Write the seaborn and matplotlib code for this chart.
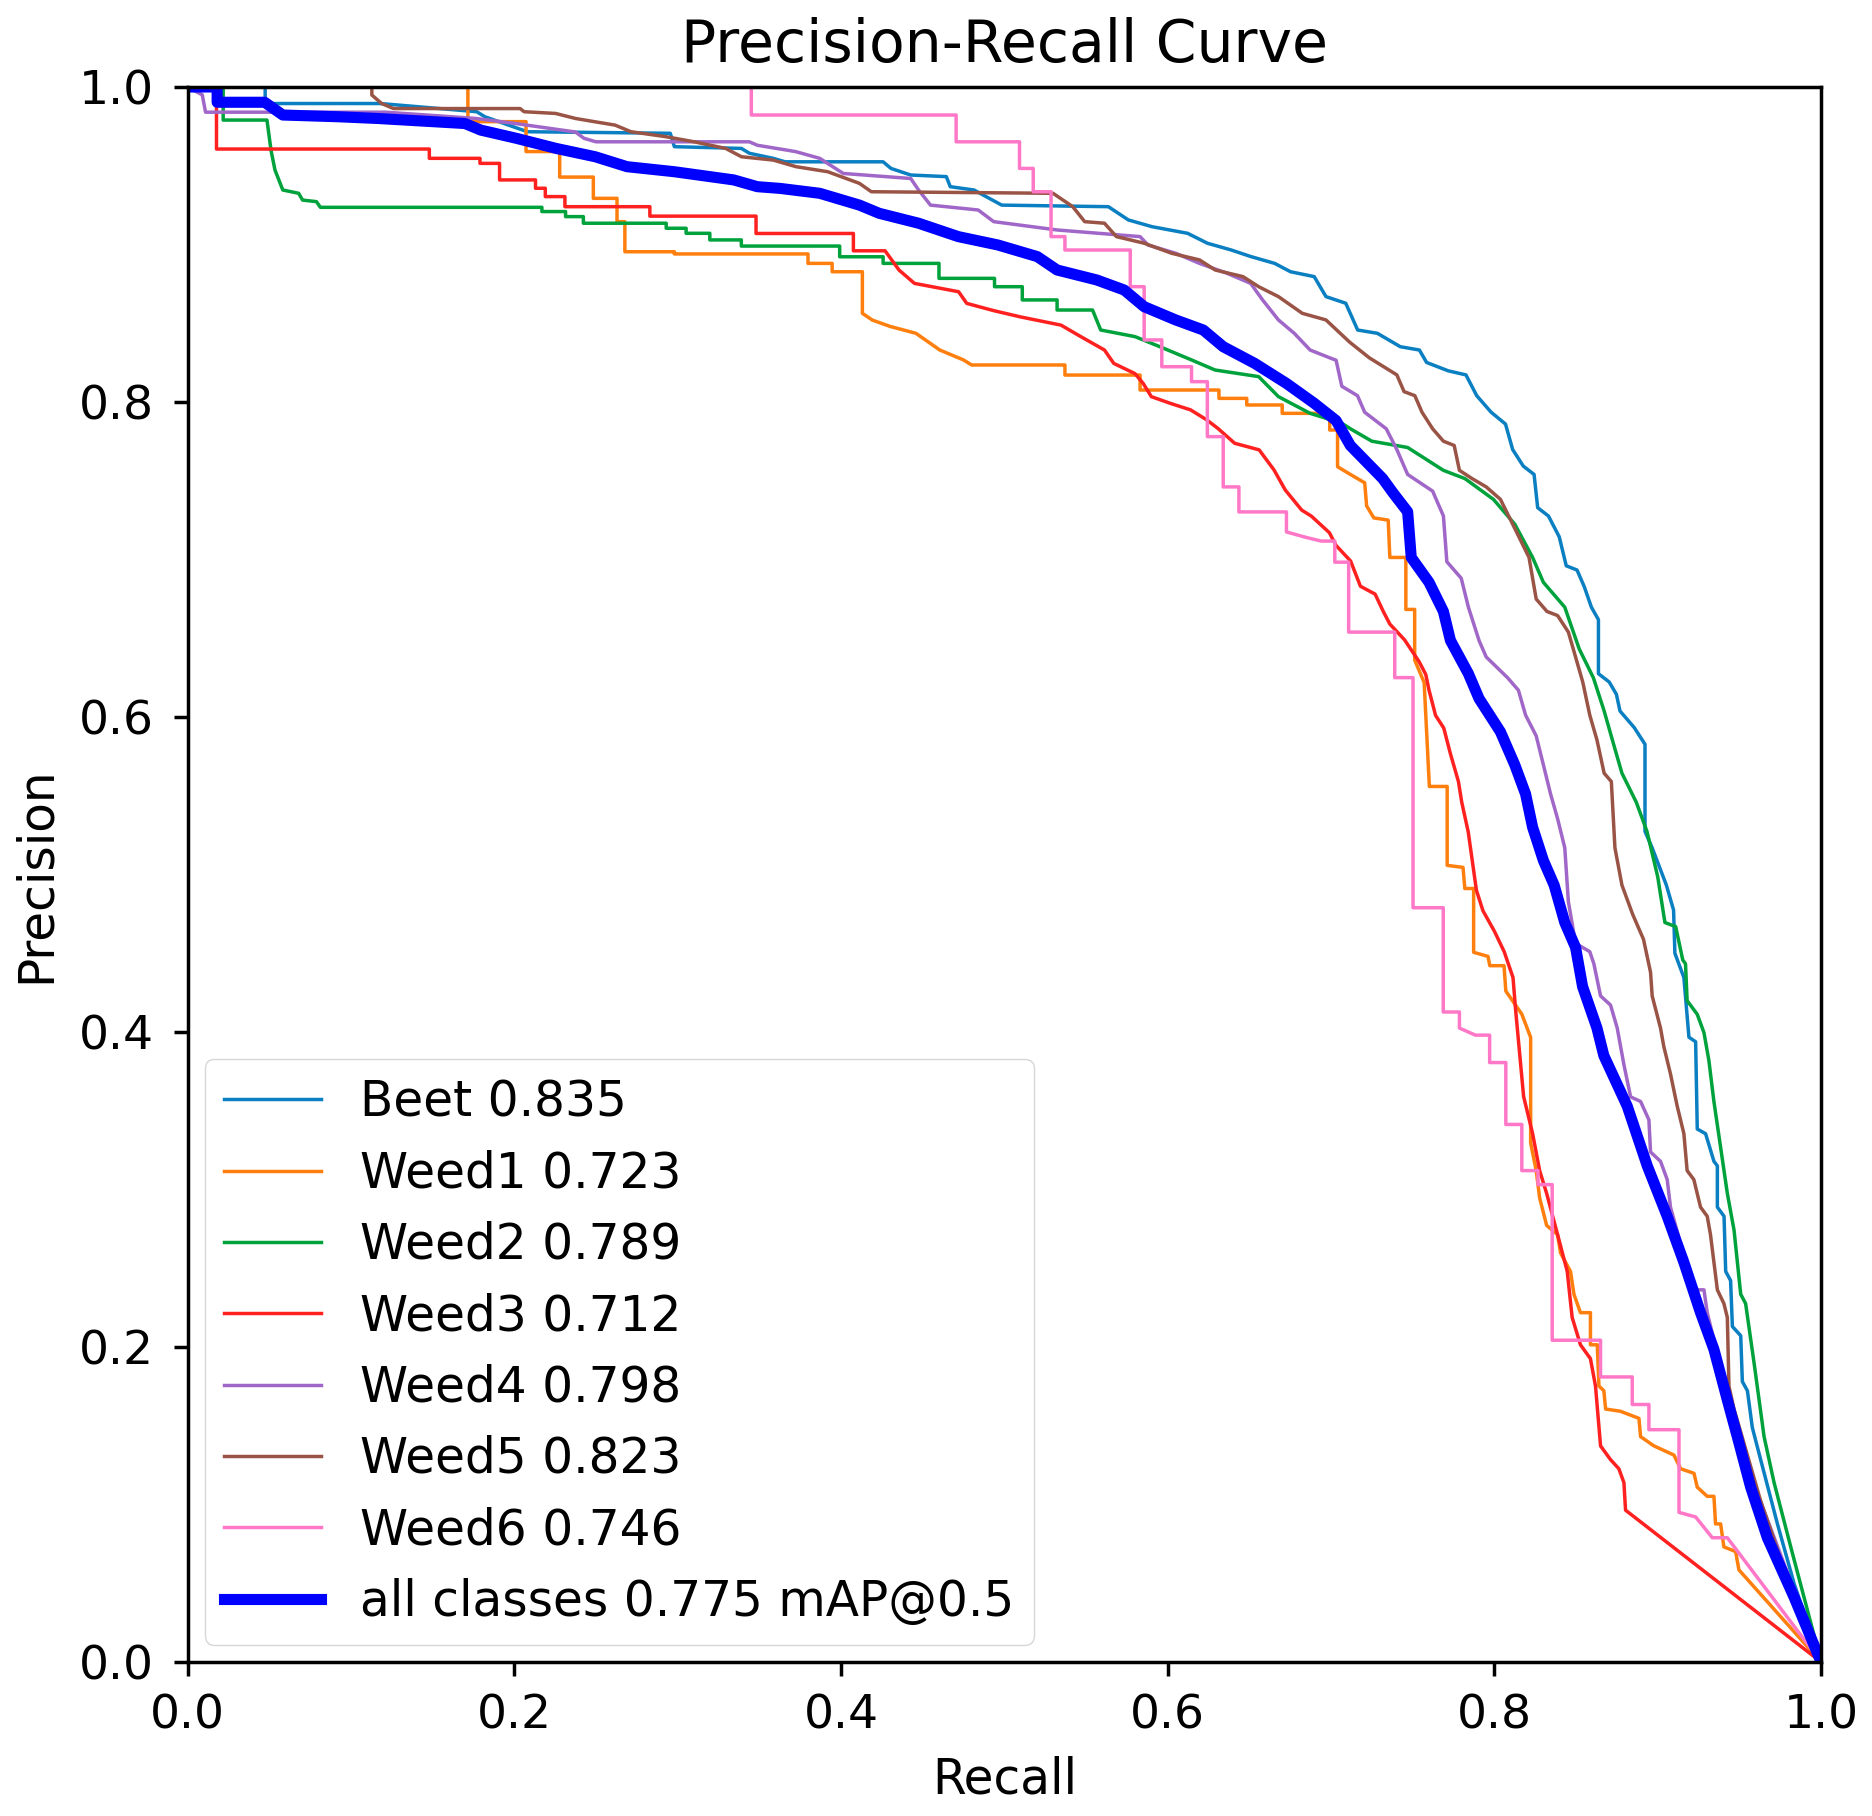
import matplotlib

matplotlib.use("Agg")
import matplotlib.pyplot as plt
import seaborn as sns

# Per-class precision/recall curves
beet_recall = [0, 0.0475, 0.0475, 0.118, 0.177, 0.182, 0.208, 0.2955, 0.298, 0.339, 0.344, 0.3585,
               0.3658, 0.4258, 0.4306, 0.4427, 0.4645, 0.4669, 0.4814, 0.4984, 0.5637, 0.5759,
               0.5904, 0.6122, 0.6243, 0.6389, 0.651, 0.6655, 0.6752, 0.6897, 0.6969, 0.709,
               0.7163, 0.7284, 0.7424, 0.7541, 0.7585, 0.7717, 0.7826, 0.7892, 0.798, 0.8068,
               0.8112, 0.8177, 0.8243, 0.8265, 0.8331, 0.8397, 0.844, 0.8506, 0.855, 0.8594,
               0.8637, 0.8637, 0.8703, 0.8747, 0.8769, 0.8856, 0.8922, 0.8922, 0.8966, 0.9053,
               0.9097, 0.9105, 0.916, 0.9191, 0.9232, 0.9242, 0.9293, 0.9344, 0.9365, 0.9365,
               0.9406, 0.9416, 0.9446, 0.9457, 0.9508, 0.9518, 0.9549, 0.9579, 0.963, 0.9733,
               0.9835, 1.0]
beet_precision = [1, 1, 0.9895, 0.9895, 0.9843, 0.9811, 0.9716, 0.9706, 0.9621, 0.961, 0.9579,
                  0.9547, 0.9525, 0.9525, 0.9483, 0.9441, 0.9431, 0.9367, 0.9346, 0.925, 0.924,
                  0.9156, 0.9113, 0.9071, 0.9008, 0.8965, 0.8923, 0.888, 0.8827, 0.8796, 0.8669,
                  0.8627, 0.8457, 0.8436, 0.8351, 0.833, 0.8251, 0.8198, 0.8172, 0.804, 0.7935,
                  0.786, 0.7698, 0.7593, 0.754, 0.7329, 0.7276, 0.7144, 0.696, 0.6933, 0.6828,
                  0.6697, 0.6618, 0.6275, 0.6222, 0.6144, 0.6038, 0.5933, 0.5827, 0.5274, 0.5169,
                  0.4932, 0.4774, 0.45, 0.4346, 0.3967, 0.3938, 0.3384, 0.3354, 0.3179, 0.315,
                  0.2888, 0.283, 0.248, 0.2422, 0.213, 0.2072, 0.1781, 0.1722, 0.1489, 0.1285,
                  0.0876, 0.0497, 0.0]

weed1_recall = [0, 0.1716, 0.1716, 0.2072, 0.2072, 0.2278, 0.2278, 0.2484, 0.2484, 0.2629, 0.2629,
                0.2677, 0.2677, 0.298, 0.298, 0.3798, 0.3798, 0.3946, 0.3946, 0.4131, 0.4131,
                0.4192, 0.43, 0.4459, 0.4605, 0.475, 0.48, 0.5371, 0.5371, 0.5831, 0.5831, 0.6314,
                0.6314, 0.6484, 0.6484, 0.6701, 0.6701, 0.6992, 0.6992, 0.704, 0.704, 0.712,
                0.7206, 0.7218, 0.7262, 0.735, 0.736, 0.7458, 0.7458, 0.7512, 0.7512, 0.757, 0.7602,
                0.7711, 0.7711, 0.7808, 0.7819, 0.7873, 0.7873, 0.7961, 0.7972, 0.8059, 0.807,
                0.8168, 0.8222, 0.8222, 0.8256, 0.8277, 0.832, 0.8387, 0.8405, 0.8466, 0.8487,
                0.8527, 0.8588, 0.8588, 0.863, 0.864, 0.867, 0.8681, 0.8772, 0.8885, 0.8895,
                0.8977, 0.9038, 0.9099, 0.914, 0.9222, 0.9242, 0.9303, 0.9344, 0.9354, 0.9385,
                0.9405, 0.9477, 0.9497, 1.0]
weed1_precision = [1, 1, 0.978, 0.978, 0.959, 0.959, 0.9428, 0.9428, 0.9293, 0.9293, 0.9145, 0.9145,
                   0.8954, 0.8954, 0.894, 0.894, 0.888, 0.888, 0.8827, 0.8827, 0.8563, 0.852, 0.848,
                   0.8436, 0.833, 0.8267, 0.8235, 0.8235, 0.8171, 0.8171, 0.8076, 0.8076, 0.8023,
                   0.8023, 0.7981, 0.7981, 0.7928, 0.7928, 0.7822, 0.7822, 0.7589, 0.7539, 0.7487,
                   0.734, 0.7264, 0.725, 0.7013, 0.7013, 0.6683, 0.6683, 0.6362, 0.6219, 0.5559,
                   0.5559, 0.5058, 0.5045, 0.4911, 0.4911, 0.4506, 0.448, 0.4421, 0.4421, 0.426,
                   0.4113, 0.3966, 0.3296, 0.312, 0.2947, 0.2772, 0.2713, 0.2597, 0.248, 0.2335,
                   0.2218, 0.2218, 0.2014, 0.2014, 0.1752, 0.1723, 0.1606, 0.1592, 0.1547, 0.1431,
                   0.1372, 0.1343, 0.1314, 0.1227, 0.1198, 0.111, 0.1052, 0.1052, 0.0877, 0.0877,
                   0.0731, 0.0701, 0.0585, 0.0]

weed2_recall = [0, 0.0218, 0.0218, 0.0486, 0.0511, 0.0535, 0.0583, 0.068, 0.0704, 0.0789, 0.0813,
                0.2169, 0.2169, 0.2314, 0.2314, 0.2423, 0.2423, 0.293, 0.293, 0.3052, 0.3052,
                0.3197, 0.3197, 0.339, 0.339, 0.3992, 0.3992, 0.4258, 0.4258, 0.46, 0.46, 0.494,
                0.494, 0.511, 0.511, 0.5323, 0.5323, 0.554, 0.559, 0.58, 0.5952, 0.6146, 0.629,
                0.6557, 0.6678, 0.6872, 0.7066, 0.712, 0.725, 0.7469, 0.7688, 0.7819, 0.7994,
                0.8125, 0.8234, 0.83, 0.8431, 0.8519, 0.8606, 0.8672, 0.8737, 0.8781, 0.8869,
                0.8934, 0.9, 0.9044, 0.911, 0.9153, 0.917, 0.918, 0.9242, 0.9283, 0.9313, 0.9344,
                0.9385, 0.9426, 0.9467, 0.9508, 0.9538, 0.959, 0.9651, 0.9712, 0.9814, 1.0]
weed2_precision = [1, 1, 0.979, 0.979, 0.9597, 0.9473, 0.9346, 0.9325, 0.9282, 0.9272, 0.9236,
                   0.9236, 0.9209, 0.9209, 0.9177, 0.9177, 0.9135, 0.9135, 0.9103, 0.9103, 0.9071,
                   0.9071, 0.9029, 0.9029, 0.899, 0.899, 0.8922, 0.8922, 0.888, 0.888, 0.8785,
                   0.8785, 0.8732, 0.8732, 0.8648, 0.8648, 0.8584, 0.8584, 0.8457, 0.8415, 0.8351,
                   0.8267, 0.8203, 0.8161, 0.8034, 0.7928, 0.7865, 0.7829, 0.7751, 0.7711, 0.7566,
                   0.7514, 0.7382, 0.7224, 0.7013, 0.6855, 0.6697, 0.6433, 0.6249, 0.6038, 0.5801,
                   0.5643, 0.5458, 0.5274, 0.4985, 0.4695, 0.4669, 0.4458, 0.4433, 0.4199, 0.4112,
                   0.3996, 0.382, 0.3558, 0.3267, 0.2976, 0.2743, 0.2335, 0.2276, 0.1897, 0.1431,
                   0.114, 0.0732, 0.0]

weed3_recall = [0, 0.0177, 0.0177, 0.148, 0.148, 0.179, 0.179, 0.191, 0.191, 0.213, 0.213, 0.219,
                0.219, 0.231, 0.231, 0.283, 0.283, 0.348, 0.348, 0.4076, 0.4076, 0.427, 0.4355,
                0.445, 0.472, 0.477, 0.4935, 0.51, 0.5347, 0.547, 0.5613, 0.567, 0.58, 0.585, 0.59,
                0.602, 0.614, 0.624, 0.631, 0.641, 0.656, 0.665, 0.672, 0.682, 0.688, 0.699, 0.703,
                0.712, 0.718, 0.727, 0.732, 0.736, 0.745, 0.754, 0.758, 0.76, 0.764, 0.769, 0.773,
                0.778, 0.78, 0.784, 0.789, 0.793, 0.8, 0.806, 0.8114, 0.813, 0.8179, 0.8234,
                0.8277, 0.832, 0.8387, 0.8446, 0.8476, 0.8527, 0.8588, 0.8619, 0.865, 0.8711,
                0.8762, 0.8793, 0.8803, 1.0]
weed3_precision = [1, 1, 0.9606, 0.9606, 0.9547, 0.9547, 0.9515, 0.9515, 0.941, 0.941, 0.9357,
                   0.9357, 0.9304, 0.9304, 0.924, 0.924, 0.918, 0.918, 0.907, 0.907, 0.896, 0.896,
                   0.8838, 0.8753, 0.87, 0.8626, 0.858, 0.854, 0.8488, 0.8414, 0.833, 0.8245,
                   0.818, 0.8118, 0.8034, 0.799, 0.795, 0.7886, 0.783, 0.7738, 0.7696, 0.757,
                   0.7441, 0.7314, 0.7275, 0.717, 0.709, 0.699, 0.683, 0.678, 0.667, 0.659, 0.649,
                   0.635, 0.627, 0.617, 0.601, 0.593, 0.577, 0.559, 0.546, 0.527, 0.49, 0.477,
                   0.464, 0.451, 0.4346, 0.414, 0.359, 0.3355, 0.312, 0.2975, 0.2713, 0.248,
                   0.2188, 0.2014, 0.1926, 0.1752, 0.1372, 0.1285, 0.1227, 0.1139, 0.0964, 0.0]

weed4_recall = [0, 0.009, 0.011, 0.1213, 0.1767, 0.2008, 0.2375, 0.2427, 0.25, 0.3439, 0.3488,
                0.3681, 0.3725, 0.387, 0.4014, 0.4427, 0.4475, 0.4548, 0.484, 0.4935, 0.5324,
                0.5831, 0.5879, 0.605, 0.6195, 0.6364, 0.6508, 0.6581, 0.6678, 0.6775, 0.6872,
                0.6993, 0.7031, 0.7066, 0.7162, 0.7206, 0.7338, 0.7403, 0.7469, 0.7622, 0.7688,
                0.7709, 0.7797, 0.7841, 0.7906, 0.795, 0.8081, 0.8147, 0.8191, 0.8256, 0.83,
                0.8344, 0.8387, 0.8431, 0.8453, 0.8497, 0.8584, 0.8609, 0.865, 0.8711, 0.8752,
                0.8793, 0.8834, 0.8895, 0.8946, 0.8956, 0.9017, 0.9058, 0.9078, 0.915, 0.9221,
                0.9283, 0.9303, 0.9426, 0.96, 1.0]
weed4_precision = [1, 0.995, 0.984, 0.984, 0.98, 0.9768, 0.9714, 0.9674, 0.9652, 0.9652, 0.963,
                   0.9597, 0.9589, 0.9547, 0.9451, 0.9419, 0.9346, 0.925, 0.9219, 0.9145, 0.9092,
                   0.905, 0.8997, 0.8944, 0.888, 0.8817, 0.8753, 0.8648, 0.8521, 0.8436, 0.833,
                   0.828, 0.8265, 0.81, 0.804, 0.7935, 0.783, 0.7698, 0.754, 0.7434, 0.7276,
                   0.6986, 0.6881, 0.6697, 0.6486, 0.6381, 0.6249, 0.617, 0.6012, 0.588, 0.5696,
                   0.5511, 0.5354, 0.5169, 0.4827, 0.4563, 0.451, 0.4433, 0.4229, 0.4171, 0.4025,
                   0.3792, 0.3588, 0.3559, 0.3442, 0.3238, 0.3179, 0.3063, 0.2888, 0.262, 0.2363,
                   0.2363, 0.2218, 0.17, 0.11, 0.0]

weed5_recall = [0, 0.1128, 0.1128, 0.1188, 0.1261, 0.2036, 0.206, 0.2253, 0.2375, 0.2495, 0.2617,
                0.2714, 0.2931, 0.3101, 0.3294, 0.3391, 0.3585, 0.3725, 0.3919, 0.4113, 0.4186,
                0.5298, 0.5419, 0.5492, 0.5613, 0.5686, 0.5856, 0.6025, 0.6195, 0.6291, 0.6461,
                0.6557, 0.6678, 0.6824, 0.6969, 0.7114, 0.7235, 0.7403, 0.7447, 0.7513, 0.7557,
                0.7622, 0.7688, 0.7754, 0.7786, 0.7863, 0.795, 0.8037, 0.8125, 0.8212, 0.8256,
                0.8322, 0.8387, 0.8453, 0.8497, 0.8541, 0.8584, 0.8628, 0.8672, 0.8716, 0.8738,
                0.8781, 0.8847, 0.8913, 0.8956, 0.8966, 0.9017, 0.9037, 0.9078, 0.9119, 0.916,
                0.918, 0.9221, 0.9262, 0.9303, 0.9323, 0.9344, 0.9365, 0.9405, 0.9426, 0.9436,
                0.9467, 0.9508, 0.963, 0.9794, 1.0]
weed5_precision = [1, 1, 0.9949, 0.9895, 0.9863, 0.9863, 0.9843, 0.9832, 0.98, 0.9779, 0.9758,
                   0.9716, 0.9684, 0.9652, 0.961, 0.9557, 0.9536, 0.9494, 0.9462, 0.9388, 0.9335,
                   0.9325, 0.924, 0.9145, 0.9135, 0.905, 0.9008, 0.8944, 0.8902, 0.8838, 0.8796,
                   0.8732, 0.8669, 0.8563, 0.8521, 0.838, 0.828, 0.8172, 0.8066, 0.804, 0.7935,
                   0.783, 0.7751, 0.7724, 0.7566, 0.7514, 0.7461, 0.7382, 0.7197, 0.7013, 0.6749,
                   0.667, 0.6644, 0.6539, 0.6381, 0.6222, 0.6012, 0.5854, 0.5643, 0.559, 0.5169,
                   0.4932, 0.4746, 0.4588, 0.4379, 0.4229, 0.4025, 0.3909, 0.3734, 0.353, 0.3355,
                   0.312, 0.3063, 0.2888, 0.283, 0.2713, 0.2538, 0.2363, 0.2276, 0.2188, 0.1751,
                   0.1606, 0.146, 0.1023, 0.0527, 0.0]

weed6_recall = [0, 0.3451, 0.3451, 0.4705, 0.4705, 0.5093, 0.5093, 0.5177, 0.5177, 0.5286, 0.5286,
                0.5371, 0.5371, 0.5771, 0.5771, 0.5856, 0.5856, 0.5964, 0.5964, 0.6146, 0.6146,
                0.6243, 0.6243, 0.634, 0.634, 0.6436, 0.6436, 0.6727, 0.6727, 0.6848, 0.694,
                0.7023, 0.7023, 0.7108, 0.7108, 0.739, 0.739, 0.7502, 0.7502, 0.7687, 0.7687,
                0.7786, 0.7786, 0.7884, 0.7971, 0.7971, 0.807, 0.807, 0.8168, 0.8168, 0.8267,
                0.8267, 0.8354, 0.8354, 0.865, 0.865, 0.8844, 0.8844, 0.8946, 0.8946, 0.913,
                0.913, 0.9232, 0.9334, 0.9426, 1.0]
weed6_precision = [1, 1, 0.9822, 0.9822, 0.9652, 0.9652, 0.9483, 0.9483, 0.9335, 0.9335, 0.905,
                   0.905, 0.8965, 0.8965, 0.8732, 0.8732, 0.8394, 0.8394, 0.8224, 0.8224, 0.8129,
                   0.8129, 0.778, 0.778, 0.7461, 0.7461, 0.7302, 0.7302, 0.7175, 0.714, 0.7117,
                   0.7117, 0.6983, 0.6983, 0.6539, 0.6539, 0.625, 0.625, 0.4789, 0.4789, 0.4127,
                   0.4127, 0.4025, 0.398, 0.398, 0.3806, 0.3806, 0.3413, 0.3413, 0.312, 0.312,
                   0.3031, 0.3031, 0.2043, 0.2043, 0.181, 0.181, 0.1635, 0.1635, 0.1475, 0.1475,
                   0.095, 0.0921, 0.0789, 0.0789, 0.0]

all_recall = [0, 0.0181, 0.0181, 0.0472, 0.0583, 0.0923, 0.1165, 0.1698, 0.1796, 0.2013, 0.2256,
              0.2496, 0.269, 0.298, 0.3343, 0.3488, 0.3628, 0.387, 0.4113, 0.4234, 0.4475, 0.4718,
              0.496, 0.5202, 0.5323, 0.5565, 0.5734, 0.5856, 0.6049, 0.6218, 0.634, 0.6533,
              0.6727, 0.6897, 0.7031, 0.7118, 0.7316, 0.7381, 0.7469, 0.7491, 0.76, 0.7688,
              0.7731, 0.7841, 0.7906, 0.8037, 0.8125, 0.8191, 0.8234, 0.83, 0.8366, 0.8431,
              0.8497, 0.854, 0.8628, 0.867, 0.8813, 0.8936, 0.9058, 0.916, 0.9262, 0.9344,
              0.9426, 0.9487, 0.9569, 0.9671, 0.9835, 1.0]
all_precision = [1, 1, 0.9903, 0.9903, 0.9822, 0.9811, 0.98, 0.9768, 0.9726, 0.9674, 0.961,
                 0.9557, 0.9494, 0.9462, 0.941, 0.9367, 0.9356, 0.9325, 0.925, 0.9198, 0.9135,
                 0.905, 0.8997, 0.8923, 0.8838, 0.8775, 0.8711, 0.8605, 0.8521, 0.8457, 0.8351,
                 0.8245, 0.8118, 0.7992, 0.7882, 0.7724, 0.7514, 0.7421, 0.7303, 0.7013, 0.6855,
                 0.667, 0.6486, 0.6275, 0.6117, 0.5906, 0.5696, 0.5511, 0.53, 0.5089, 0.4932,
                 0.4695, 0.4537, 0.4288, 0.4025, 0.385, 0.353, 0.315, 0.283, 0.2538, 0.2218,
                 0.1985, 0.1664, 0.1431, 0.111, 0.0789, 0.0411, 0.0]

class_names = ["Beet", "Weed1", "Weed2", "Weed3", "Weed4", "Weed5", "Weed6"]
class_ap = [0.835, 0.723, 0.789, 0.712, 0.798, 0.823, 0.746]
all_map = 0.775
class_colors = ["#0a7fc2", "#ff7f0e", "#00a23c", "#ff2020", "#a067c8", "#9a5446", "#ff78c8"]

curves = [
    (beet_recall, beet_precision),
    (weed1_recall, weed1_precision),
    (weed2_recall, weed2_precision),
    (weed3_recall, weed3_precision),
    (weed4_recall, weed4_precision),
    (weed5_recall, weed5_precision),
    (weed6_recall, weed6_precision),
]

plt.rcParams.update(
    {
        "font.family": "DejaVu Sans",
        "font.size": 34,
        "axes.linewidth": 2.5,
        "xtick.major.size": 10,
        "ytick.major.size": 10,
        "xtick.major.width": 2.5,
        "ytick.major.width": 2.5,
        "xtick.major.pad": 13,
        "ytick.major.pad": 14,
    }
)

fig = plt.figure(figsize=(18.72, 18.16), dpi=100)
ax = fig.add_axes([0.1002, 0.0848, 0.8726, 0.8673])

for name, ap, color, (rec, prec) in zip(class_names, class_ap, class_colors, curves):
    sns.lineplot(
        x=rec,
        y=prec,
        sort=False,
        estimator=None,
        color=color,
        linewidth=2.5,
        label=f"{name} {ap:.3f}",
        ax=ax,
    )

sns.lineplot(
    x=all_recall,
    y=all_precision,
    sort=False,
    estimator=None,
    color="#0000ff",
    linewidth=8,
    label=f"all classes {all_map:.3f} mAP@0.5",
    ax=ax,
)

ax.set_xlim(0, 1)
ax.set_ylim(0, 1)
ax.set_xlabel("Recall", fontsize=35, labelpad=12)
ax.set_ylabel("Precision", fontsize=35, labelpad=14)
ax.set_title("Precision-Recall Curve", fontsize=42, pad=18)
ax.legend(
    loc="lower left",
    fontsize=35,
    labelspacing=0.48,
    borderaxespad=0.35,
    framealpha=0.8,
)

fig.savefig("out.png", dpi=100)
